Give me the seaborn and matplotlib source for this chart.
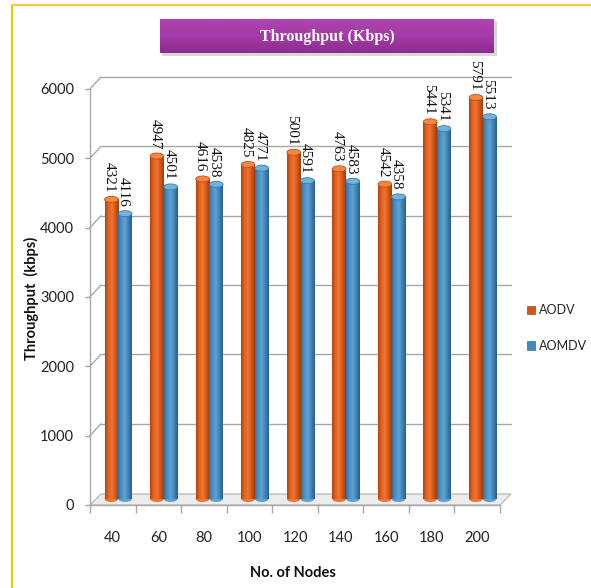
import numpy as np
import pandas as pd
import matplotlib
matplotlib.use("Agg")
import matplotlib.pyplot as plt
import seaborn as sns
from matplotlib.transforms import ScaledTranslation, IdentityTransform
from matplotlib.patches import Ellipse, Polygon, Patch, Rectangle
from matplotlib.colors import LinearSegmentedColormap
from matplotlib.lines import Line2D

# Throughput per node count
nodes = ["40", "60", "80", "100", "120", "140", "160", "180", "200"]
aodv = [4321, 4947, 4616, 4825, 5001, 4763, 4542, 5441, 5791]
aomdv = [4116, 4501, 4538, 4771, 4591, 4583, 4358, 5341, 5513]
protocols = ["AODV", "AOMDV"]
y_ticks = [0, 1000, 2000, 3000, 4000, 5000, 6000]

df = pd.DataFrame({
    "Nodes": nodes * 2,
    "Throughput": aodv + aomdv,
    "Protocol": [protocols[0]] * len(nodes) + [protocols[1]] * len(nodes),
})

sns.set_theme(style="white")
plt.rcParams["font.family"] = ["Lato", "DejaVu Sans"]

W, H = 591, 588
fig = plt.figure(figsize=(W / 100, H / 100), dpi=100)


def px_rect(x0, y0, x1, y1):
    return [x0 / W, 1 - y1 / H, (x1 - x0) / W, (y1 - y0) / H]


ax = fig.add_axes(px_rect(90, 89, 500, 505))

base_cols = {"AODV": "#D8581A", "AOMDV": "#4189BE"}
sns.barplot(data=df, x="Nodes", y="Throughput", hue="Protocol",
            palette=base_cols, width=0.6, saturation=1, linewidth=0,
            legend=False, ax=ax)

ax.set_xlim(-0.5, len(nodes) - 0.5)
ax.set_ylim(0, 6000)
ax.set_xlabel("")
ax.set_ylabel("")

ax_h_px = ax.bbox.height
units_per_px = 6000 / ax_h_px


def shift(dx, dy):
    return ax.transData + ScaledTranslation(dx / 100, dy / 100, fig.dpi_scale_trans)


mid = shift(5.5, 6)
back = shift(11, 12)

# back wall gridlines + diagonal joins to the front axis
for v in y_ticks[1:]:
    ax.plot([-0.5, len(nodes) - 0.5], [v, v], transform=back,
            color="#A8A8A8", lw=1.0, zorder=0.5, clip_on=False)
    p = ax.transData.transform((-0.5, v))
    ax.add_line(Line2D([p[0], p[0] + 11], [p[1], p[1] + 12],
                       transform=IdentityTransform(), color="#A8A8A8",
                       lw=1.0, zorder=0.5, clip_on=False))

# floor slab
f0 = ax.transData.transform((-0.5, 0))
f1 = ax.transData.transform((len(nodes) - 0.5, 0))
floor = Polygon([(f0[0], f0[1]), (f1[0], f1[1]), (f1[0] + 11, f1[1] + 11),
                 (f0[0] + 11, f0[1] + 11)], closed=True,
                transform=IdentityTransform(), facecolor="#ECECEC",
                edgecolor="#BEBEBE", lw=1.0, zorder=0.6, clip_on=False)
ax.add_patch(floor)

cyl_maps = {
    "AODV": LinearSegmentedColormap.from_list(
        "aodv", ["#B4440C", "#E36422", "#EE7430", "#D2561A", "#A23C08"]),
    "AOMDV": LinearSegmentedColormap.from_list(
        "aomdv", ["#336FA0", "#4C93C6", "#5CA2D2", "#3F82B6", "#2A5F8A"]),
}
top_cols = {"AODV": ("#F28846", "#C4500F"), "AOMDV": ("#72B2DE", "#3A7AAA")}
grad = np.linspace(0, 1, 64).reshape(1, -1)
ell_h = 6 * units_per_px
lab_gap = 7 * units_per_px

for proto, cont in zip(protocols, ax.containers):
    vals = aodv if proto == "AODV" else aomdv
    for bar, v in zip(cont.patches, vals):
        x0 = bar.get_x()
        w = bar.get_width()
        h = bar.get_height()
        bar.set_transform(mid)
        bar.set_alpha(0)
        # cylinder base
        ax.add_patch(Ellipse((x0 + w / 2, 0), w, ell_h, transform=mid,
                             facecolor=cyl_maps[proto](0.5), lw=0, zorder=1.9))
        ax.imshow(grad, extent=[x0, x0 + w, 0, h], aspect="auto",
                  cmap=cyl_maps[proto], transform=mid, zorder=2,
                  interpolation="bilinear")
        ax.add_patch(Ellipse((x0 + w / 2, h), w, ell_h, transform=mid,
                             facecolor=top_cols[proto][0],
                             edgecolor=top_cols[proto][1], lw=0.6, zorder=2.1))
        ax.text(x0 + w / 2 - 0.04, h + lab_gap, f"{v}", rotation=-90,
                ha="center", va="bottom", transform=mid, fontsize=11,
                family=["Liberation Serif", "DejaVu Serif"], color="#111111",
                zorder=3)

ax.set_xlim(-0.5, len(nodes) - 0.5)
ax.set_ylim(0, 6000)
ax.set_yticks(y_ticks)

for s in ["top", "right"]:
    ax.spines[s].set_visible(False)
for s in ["left", "bottom"]:
    ax.spines[s].set_color("#A8A8A8")
    ax.spines[s].set_linewidth(1.0)

ax.set_xticks(np.arange(-0.5, len(nodes), 1.0), minor=True)
ax.tick_params(axis="x", which="major", length=0, pad=19, labelsize=10.5,
               labelcolor="#222222")
ax.tick_params(axis="x", which="minor", length=6, width=1.0, color="#A8A8A8",
               direction="out", bottom=True)
ax.tick_params(axis="y", which="major", length=3.5, width=1.0, color="#A8A8A8",
               direction="out", left=True, pad=8, labelsize=10.5,
               labelcolor="#222222")

fig.text(293 / W, 1 - 573 / H, "No. of Nodes", ha="center", va="center",
         fontsize=10.5, fontweight="bold", color="#111111")
fig.text(31 / W, 1 - 298 / H, "Throughput  (kbps)", ha="center", va="center",
         rotation=90, fontsize=10.5, fontweight="bold", color="#111111")

fig.legend(handles=[Patch(facecolor="#D55516", edgecolor="#B0440C", lw=0.5),
                    Patch(facecolor="#4189BE", edgecolor="#2F6C98", lw=0.5)],
           labels=protocols, loc="center left",
           bbox_to_anchor=(521 / W, 1 - 328 / H), frameon=False,
           fontsize=9, handlelength=0.65, handleheight=0.65,
           handletextpad=0.25, labelspacing=1.9, borderpad=0)

# banner title
shadow = fig.add_axes(px_rect(162, 21, 497, 56))
shadow.add_patch(Rectangle((0, 0), 1, 1, facecolor="#D8D8D8", lw=0))
shadow.set_axis_off()
tax = fig.add_axes(px_rect(160, 19, 494, 53))
purple = LinearSegmentedColormap.from_list("banner", ["#8C2C8E", "#A53AA8", "#AE44B0"])
tax.imshow(np.linspace(0, 1, 32).reshape(-1, 1), aspect="auto", cmap=purple,
           origin="lower", extent=[0, 1, 0, 1], interpolation="bilinear")
tax.set_xlim(0, 1)
tax.set_ylim(0, 1)
tax.set_axis_off()
tax.text(0.5, 0.48, "Throughput (Kbps)", ha="center", va="center",
         fontsize=11.5, fontweight="bold", color="white",
         family=["Liberation Serif", "DejaVu Serif"])

# page frame
fig.add_artist(Line2D([12 / W, 12 / W], [0, 1 - 5 / H], transform=fig.transFigure,
                      color="#FFC000", lw=1.6))
fig.add_artist(Line2D([12 / W, 1], [1 - 5 / H, 1 - 5 / H], transform=fig.transFigure,
                      color="#F8C840", lw=1.6))

fig.savefig("out.png", dpi=100)
